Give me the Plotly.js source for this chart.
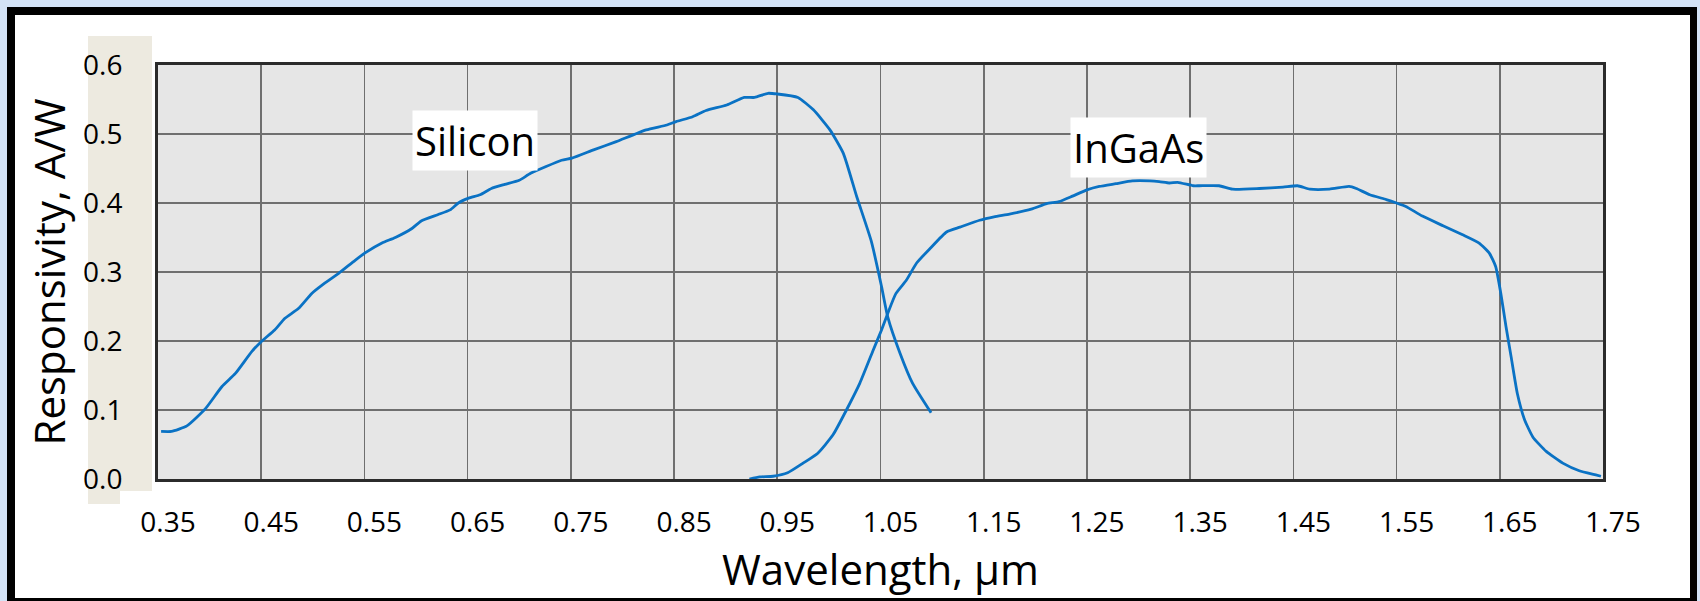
<!DOCTYPE html>
<html>
<head>
<meta charset="utf-8">
<script src="https://cdn.plot.ly/plotly-3.0.1.min.js"></script>
<style>
  html, body { margin: 0; padding: 0; background: #d3e3f6; }
  #chart { width: 1700px; height: 601px; }
</style>
</head>
<body>
<div id="chart"></div>
<script>
// ---- Data ----
const siliconWavelength = [0.353, 0.363, 0.378, 0.396, 0.412, 0.425, 0.441, 0.450, 0.463, 0.473, 0.486, 0.499, 0.509, 0.525, 0.541, 0.551, 0.567, 0.580, 0.596, 0.605, 0.621, 0.633, 0.641, 0.651, 0.662, 0.673, 0.686, 0.700, 0.711, 0.741, 0.751, 0.772, 0.794, 0.823, 0.843, 0.852, 0.868, 0.881, 0.901, 0.918, 0.928, 0.941, 0.950, 0.970, 0.985, 1.001, 1.014, 1.027, 1.041, 1.051, 1.057, 1.069, 1.081, 1.099];
const siliconResponsivity = [0.069, 0.069, 0.077, 0.102, 0.134, 0.153, 0.185, 0.199, 0.216, 0.233, 0.247, 0.269, 0.281, 0.298, 0.317, 0.328, 0.342, 0.350, 0.363, 0.374, 0.383, 0.390, 0.400, 0.407, 0.412, 0.421, 0.427, 0.433, 0.443, 0.462, 0.465, 0.477, 0.489, 0.506, 0.513, 0.518, 0.525, 0.534, 0.542, 0.553, 0.553, 0.559, 0.558, 0.553, 0.535, 0.506, 0.472, 0.409, 0.345, 0.279, 0.235, 0.182, 0.139, 0.096];

const ingaasWavelength = [0.923, 0.933, 0.946, 0.960, 0.975, 0.989, 1.004, 1.017, 1.030, 1.043, 1.051, 1.057, 1.065, 1.075, 1.085, 1.098, 1.114, 1.127, 1.146, 1.160, 1.175, 1.196, 1.211, 1.223, 1.236, 1.250, 1.262, 1.278, 1.294, 1.311, 1.320, 1.330, 1.338, 1.353, 1.359, 1.378, 1.391, 1.417, 1.440, 1.454, 1.466, 1.485, 1.504, 1.511, 1.524, 1.540, 1.550, 1.559, 1.575, 1.595, 1.614, 1.630, 1.640, 1.646, 1.651, 1.656, 1.661, 1.667, 1.674, 1.682, 1.695, 1.711, 1.727, 1.743, 1.748];
const ingaasResponsivity = [0.000, 0.003, 0.004, 0.009, 0.023, 0.037, 0.064, 0.100, 0.139, 0.187, 0.216, 0.240, 0.269, 0.288, 0.313, 0.334, 0.358, 0.365, 0.375, 0.380, 0.384, 0.391, 0.399, 0.402, 0.410, 0.419, 0.424, 0.428, 0.432, 0.432, 0.431, 0.429, 0.430, 0.425, 0.425, 0.425, 0.420, 0.421, 0.423, 0.425, 0.420, 0.420, 0.424, 0.421, 0.412, 0.405, 0.400, 0.395, 0.381, 0.367, 0.354, 0.342, 0.327, 0.308, 0.269, 0.221, 0.177, 0.124, 0.086, 0.061, 0.040, 0.023, 0.012, 0.006, 0.004];

const xTickVals = [0.35, 0.45, 0.55, 0.65, 0.75, 0.85, 0.95, 1.05, 1.15, 1.25, 1.35, 1.45, 1.55, 1.65, 1.75];
const xTickText = ['0.35', '0.45', '0.55', '0.65', '0.75', '0.85', '0.95', '1.05', '1.15', '1.25', '1.35', '1.45', '1.55', '1.65', '1.75'];
const yTickVals = [0.0, 0.1, 0.2, 0.3, 0.4, 0.5, 0.6];
const yTickText = ['0.0', '0.1', '0.2', '0.3', '0.4', '0.5', '0.6'];

const seriesNames = ['Silicon', 'InGaAs'];

// ---- Layout geometry ----
const W = 1700, H = 601;
const L = 158, R = 1603, T = 65, B = 479;
const PX = p => (p - L) / (R - L);
const PY = p => (B - p) / (B - T);

const FONT = '"Open Sans", "Noto Sans", sans-serif';
const lineColor = '#0a72c4';

const traces = [
  { x: siliconWavelength, y: siliconResponsivity, name: seriesNames[0], type: 'scatter', mode: 'lines',
    line: { color: lineColor, width: 2.8, shape: 'spline', smoothing: 0.5 }, hoverinfo: 'x+y+name' },
  { x: ingaasWavelength, y: ingaasResponsivity, name: seriesNames[1], type: 'scatter', mode: 'lines',
    line: { color: lineColor, width: 2.8, shape: 'spline', smoothing: 0.5 }, hoverinfo: 'x+y+name' }
];

function rectPx(x0, y0, x1, y1, fill) {
  return { type: 'rect', xref: 'paper', yref: 'paper', layer: 'below',
    x0: PX(x0), x1: PX(x1), y0: PY(y1), y1: PY(y0),
    fillcolor: fill, line: { width: 0 } };
}

const layout = {
  width: W, height: H,
  margin: { l: L, r: W - R, t: T, b: H - B, pad: 0 },
  paper_bgcolor: '#d3e3f6',
  plot_bgcolor: '#e6e6e6',
  showlegend: false,
  font: { family: FONT, color: '#000000' },
  xaxis: {
    range: [0.35, 1.75],
    tickvals: xTickVals, ticktext: xTickText,
    tickfont: { family: FONT, size: 28, color: '#000' },
    ticks: '', ticklabelstandoff: 16, ticklabelshift: 10,
    showgrid: true, gridcolor: '#6f6f6f', gridwidth: 1.6,
    showline: true, linecolor: '#2b2b2b', linewidth: 3, mirror: true,
    zeroline: false, fixedrange: true,
    title: { text: 'Wavelength, μm', font: { family: FONT, size: 42, color: '#000' }, standoff: 2 }
  },
  yaxis: {
    range: [0, 0.6],
    tickvals: yTickVals, ticktext: yTickText,
    tickfont: { family: FONT, size: 28, color: '#000' },
    ticks: '', ticklabelstandoff: 27,
    showgrid: true, gridcolor: '#6f6f6f', gridwidth: 1.6,
    showline: true, linecolor: '#2b2b2b', linewidth: 3, mirror: true,
    zeroline: false, fixedrange: true,
    title: { text: 'Responsivity, A/W', font: { family: FONT, size: 42, color: '#000' }, standoff: 5 }
  },
  shapes: [
    rectPx(7, 7, 1697, 620, '#000000'),
    rectPx(15, 15, 1690, 598, '#ffffff'),
    rectPx(88, 36, 152, 491, '#edeae0'),
    rectPx(88, 491, 120, 504, '#edeae0'),
    { type: 'rect', xref: 'paper', yref: 'paper', layer: 'below', x0: 0, x1: 1, y0: 0, y1: 1,
      fillcolor: '#e6e6e6', line: { width: 0 } }
  ],
  annotations: [
    { text: seriesNames[0], x: 0.657, y: 0.491, xref: 'x', yref: 'y', showarrow: false,
      font: { family: FONT, size: 40, color: '#000' }, bgcolor: '#ffffff', borderpad: 2 },
    { text: seriesNames[1], x: 1.300, y: 0.480, xref: 'x', yref: 'y', showarrow: false,
      font: { family: FONT, size: 40, color: '#000' }, bgcolor: '#ffffff', borderpad: 2 }
  ]
};

Plotly.newPlot('chart', traces, layout, { displayModeBar: false, staticPlot: true });
</script>
</body>
</html>
